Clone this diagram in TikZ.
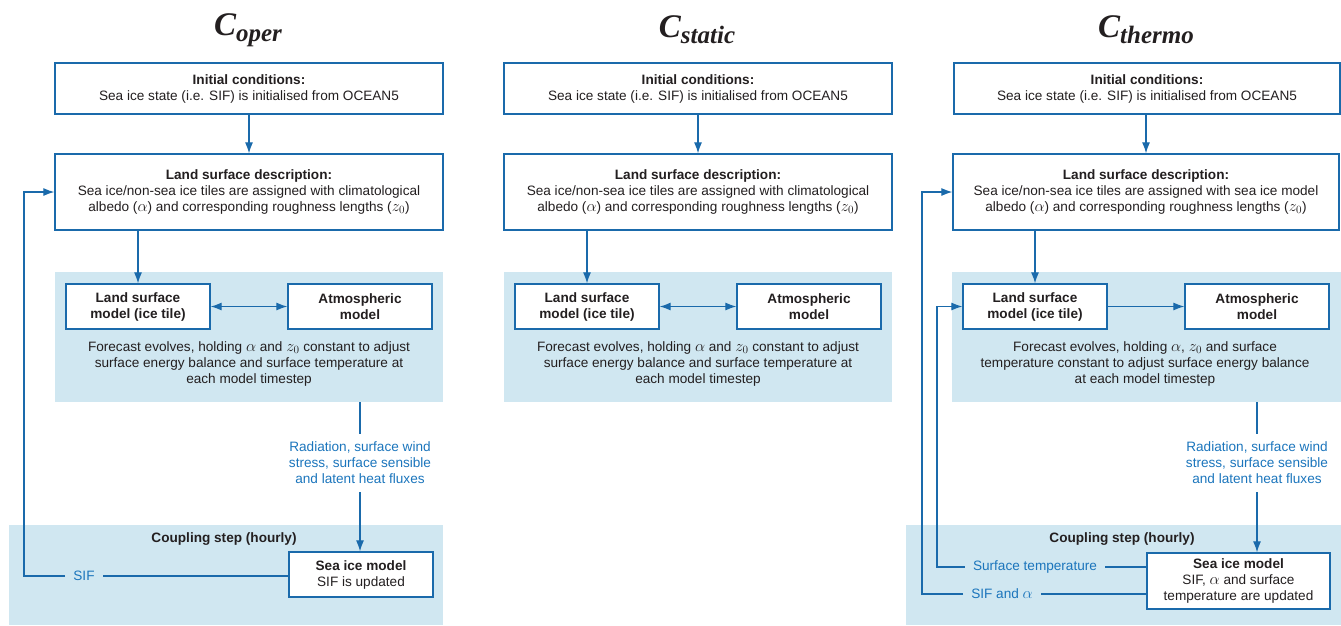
\documentclass[tikz,border=0pt]{standalone}
\usepackage{fix-cm}
\usepackage{fontspec}
\setmainfont{Liberation Sans}
\newfontfamily\titlefont{Liberation Serif}
\DeclareMathSizes{13.6}{16}{11}{9}
\usetikzlibrary{arrows.meta, positioning}
\definecolor{boxblue}{HTML}{1A6AAB}
\definecolor{tagblue}{HTML}{1B75BC}
\definecolor{shade}{HTML}{D0E7F1}
\definecolor{ink}{HTML}{231F20}
\tikzstyle{every node}=[font=\fontsize{13.6}{16}\selectfont, text=ink]
\tikzstyle{block}=[draw=boxblue, line width=1.3pt, fill=white, align=center, inner sep=0pt]
\tikzstyle{panel}=[fill=shade, inner sep=0pt, anchor=north west]
\tikzstyle{tag}=[text=tagblue, align=center, inner xsep=8pt, inner ysep=8pt]
\tikzstyle{link}=[draw=boxblue, line width=1.2pt]
\newcommand{\ctitle}[1]{{\titlefont\bfseries\itshape\fontsize{33}{33}\selectfont C\raisebox{-6pt}{\fontsize{25}{25}\selectfont #1}}}

\begin{document}
\begin{tikzpicture}[x=1pt, y=-1pt, >={Latex[length=11pt,width=8pt]}]
  \useasboundingbox (0,0) rectangle (1341,625);

  % shaded backgrounds
  \node[panel, minimum width=388pt, minimum height=130pt] (fcA) at (55,272) {};
  \node[panel, minimum width=434pt, minimum height=100pt] (cpA) at (9,525) {};
  \node[panel, minimum width=388pt, minimum height=130pt] (fcB) at (504,272) {};
  \node[panel, minimum width=389pt, minimum height=130pt] (fcC) at (952,272) {};
  \node[panel, minimum width=435pt, minimum height=100pt] (cpC) at (906,525) {};

  % C_oper
  \node (tA) at (248,30) {\ctitle{oper}};
  \node[block, minimum width=388pt, minimum height=51pt] (initA) at (249,88.5)
    {\textbf{Initial conditions:}\\Sea ice state (i.e. SIF) is initialised from OCEAN5};
  \node[block, minimum width=388pt, minimum height=76pt] (descA) at (249,192)
    {\textbf{Land surface description:}\\Sea ice/non-sea ice tiles are assigned with climatological\\albedo ($\alpha$) and corresponding roughness lengths ($z_0$)};
  \node[block, minimum width=144pt, minimum height=45pt] (lsmA) at (138,306.5)
    {\textbf{Land surface}\\\textbf{model (ice tile)}};
  \node[block, minimum width=144pt, minimum height=45pt] (atmA) at (360,306.5)
    {\textbf{Atmospheric}\\\textbf{model}};
  \node[align=center] (evA) at (249,364)
    {Forecast evolves, holding $\alpha$ and $z_0$ constant to adjust\\surface energy balance and surface temperature at\\each model timestep};
  \node[tag] (fxA) at (360,463)
    {Radiation, surface wind\\stress, surface sensible\\and latent heat fluxes};
  \node (cstA) at (224,539) {\textbf{Coupling step (hourly)}};
  \node[block, minimum width=144pt, minimum height=45pt] (seaA) at (361,574.5)
    {\textbf{Sea ice model}\\SIF is updated};
  \node[tag] (sifA) at (84,576) {SIF};
  \coordinate (cA) at (24,576);

  \draw[link, ->] (initA) -- (descA);
  \draw[link, ->] (lsmA.north |- descA.south) -- (lsmA.north);
  \draw[link, <->] (lsmA) -- (atmA);
  \draw[link] (atmA.south |- fcA.south) -- (fxA.north);
  \draw[link, ->] (fxA.south) -- (fxA.south |- seaA.north);
  \draw[link] (seaA.west |- sifA.east) -- (sifA.east);
  \draw[link, ->] (sifA.west) -- (cA) |- (descA.west);

  % C_static
  \node (tB) at (697,30) {\ctitle{static}};
  \node[block, minimum width=388pt, minimum height=51pt] (initB) at (698,88.5)
    {\textbf{Initial conditions:}\\Sea ice state (i.e. SIF) is initialised from OCEAN5};
  \node[block, minimum width=388pt, minimum height=76pt] (descB) at (698,192)
    {\textbf{Land surface description:}\\Sea ice/non-sea ice tiles are assigned with climatological\\albedo ($\alpha$) and corresponding roughness lengths ($z_0$)};
  \node[block, minimum width=144pt, minimum height=45pt] (lsmB) at (587,306.5)
    {\textbf{Land surface}\\\textbf{model (ice tile)}};
  \node[block, minimum width=144pt, minimum height=45pt] (atmB) at (809,306.5)
    {\textbf{Atmospheric}\\\textbf{model}};
  \node[align=center] (evB) at (698,364)
    {Forecast evolves, holding $\alpha$ and $z_0$ constant to adjust\\surface energy balance and surface temperature at\\each model timestep};

  \draw[link, ->] (initB) -- (descB);
  \draw[link, ->] (lsmB.north |- descB.south) -- (lsmB.north);
  \draw[link, <->] (lsmB) -- (atmB);

  % C_thermo
  \node (tC) at (1146,30) {\ctitle{thermo}};
  \node[block, minimum width=386pt, minimum height=51pt] (initC) at (1147,88.5)
    {\textbf{Initial conditions:}\\Sea ice state (i.e. SIF) is initialised from OCEAN5};
  \node[block, minimum width=386pt, minimum height=76pt] (descC) at (1146,192)
    {\textbf{Land surface description:}\\Sea ice/non-sea ice tiles are assigned with sea ice model\\albedo ($\alpha$) and corresponding roughness lengths ($z_0$)};
  \node[block, minimum width=144pt, minimum height=45pt] (lsmC) at (1035,306.5)
    {\textbf{Land surface}\\\textbf{model (ice tile)}};
  \node[block, minimum width=144pt, minimum height=45pt] (atmC) at (1257,306.5)
    {\textbf{Atmospheric}\\\textbf{model}};
  \node[align=center] (evC) at (1145,364)
    {Forecast evolves, holding $\alpha$, $z_0$ and surface\\temperature constant to adjust surface energy balance\\at each model timestep};
  \node[tag] (fxC) at (1257,463)
    {Radiation, surface wind\\stress, surface sensible\\and latent heat fluxes};
  \node (cstC) at (1122,539) {\textbf{Coupling step (hourly)}};
  \node[block, minimum width=183pt, minimum height=56pt] (seaC) at (1238.5,581)
    {\textbf{Sea ice model}\\SIF, $\alpha$ and surface\\temperature are updated};
  \node[tag] (stC) at (1035,567) {Surface temperature};
  \node[tag] (sfC) at (1002,594) {SIF and $\alpha$};
  \coordinate (c1C) at (937,567);
  \coordinate (c2C) at (922,594);

  \draw[link, ->] (initC.south -| descC.north) -- (descC.north);
  \draw[link, ->] (lsmC.north |- descC.south) -- (lsmC.north);
  \draw[link, ->] (lsmC) -- (atmC);
  \draw[link] (atmC.south |- fcC.south) -- (fxC.north);
  \draw[link, ->] (fxC.south) -- (fxC.south |- seaC.north);
  \draw[link] (seaC.west |- stC.east) -- (stC.east);
  \draw[link, ->] (stC.west) -- (c1C) |- (lsmC.west);
  \draw[link] (seaC.west |- sfC.east) -- (sfC.east);
  \draw[link, ->] (sfC.west) -- (c2C) |- (descC.west);
\end{tikzpicture}
\end{document}
